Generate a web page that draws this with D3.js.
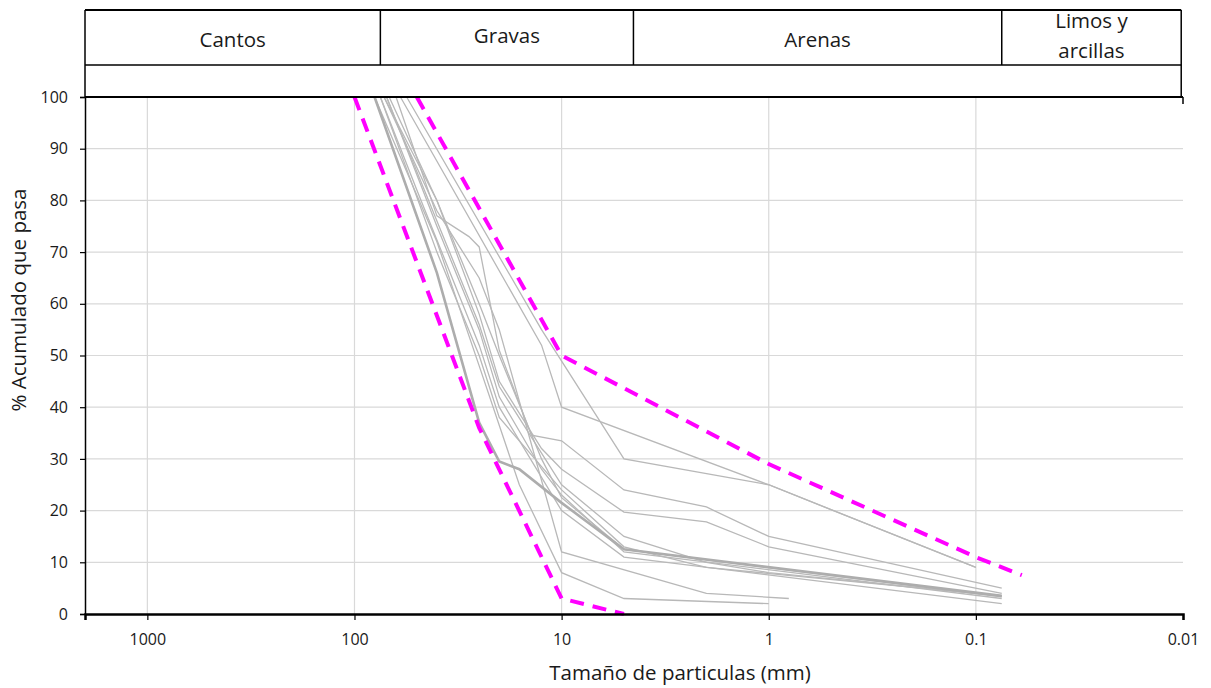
<!DOCTYPE html>
<html>
<head>
<meta charset="utf-8">
<script src="https://cdn.jsdelivr.net/npm/d3@7"></script>
<style>
  body { margin: 0; background: #fff; }
  svg { display: block; }
  text { font-family: "Open Sans", Lato, "Noto Sans", sans-serif; fill: #1a1a1a; }
</style>
</head>
<body>
<svg id="chart" width="1211" height="688"></svg>
<script>
// Particle size axis (mm) and percent passing ticks
const xTicks = [1000, 100, 10, 1, 0.1, 0.01];
const xGrid = [1000, 100, 10, 1, 0.1];
const yTicks = [0, 10, 20, 30, 40, 50, 60, 70, 80, 90, 100];

// Soil fraction bands across the top (limits in mm)
const zoneNames = [["Cantos"], ["Gravas"], ["Arenas"], ["Limos y", "arcillas"]];
const zoneLimits = [2000, 75, 4.5, 0.075, 0.0102];

// Grading curves of the samples: [size mm, % passing]
const sample01 = [[56, 100], [12.5, 55], [5, 30], [1, 25], [0.1, 9]];
const sample02 = [[60, 100], [12.5, 52], [10, 40], [1, 25], [0.1, 9]];
const sample03 = [[63, 100], [40, 77], [28, 73], [25, 71], [20, 51], [14, 34.6], [10, 33.5], [5, 24], [2, 20.7], [1, 15], [0.075, 5]];
const sample04 = [[72, 100], [40, 80], [25, 58], [20, 45], [12.5, 32], [10, 28], [5, 19.7], [2, 17.8], [1, 13], [0.075, 4]];
const sample05 = [[80, 100], [40, 66], [25, 37], [20, 29.5], [16, 28], [10, 21.5], [5, 12.5], [0.075, 3.5]];
const sample06 = [[75, 100], [40, 70], [25, 50], [20, 38], [10, 24], [5, 13], [2, 9], [0.075, 3.5]];
const sample07 = [[70, 100], [40, 75], [25, 55], [20, 42], [12.5, 28], [10, 23], [5, 12], [0.075, 3]];
const sample08 = [[75, 100], [50, 82], [25, 52], [20, 40], [10, 20], [5, 11], [0.075, 2]];
const sample09 = [[72, 100], [40, 78], [25, 65], [20, 55], [10, 12], [2, 4], [0.8, 3]];
const sample10 = [[80, 100], [40, 72], [25, 48], [16, 25], [10, 8], [5, 3], [1, 2]];
const sample11 = [[68, 100], [40, 80], [25, 60], [20, 50], [12.5, 30], [10, 22.5], [5, 12.5], [0.075, 3.3]];
const sample12 = [[70, 100], [40, 76], [25, 56], [20, 44], [10, 25], [5, 15], [2, 10], [1, 8], [0.075, 3.5]];

// Grading envelope (upper and lower limits)
const upperLimit = [[50, 100], [10, 50], [1, 29], [0.1, 11], [0.06, 7.5]];
const lowerLimit = [[100, 100], [25, 36], [10, 3], [5, 0]];

const samples = [sample01, sample02, sample03, sample04, sample06, sample07,
                 sample08, sample09, sample10, sample11, sample12];
const heavySample = sample05;

const svg = d3.select("#chart");
const plotLeft = 85, plotRight = 1183, plotTop = 97, plotBottom = 614;

const x = d3.scaleLog().domain([2000, 0.01]).range([plotLeft, plotRight]);
const y = d3.scaleLinear().domain([0, 100]).range([plotBottom, plotTop]);

// Gridlines
svg.append("g").selectAll("line").data(yTicks.filter(d => d > 0 && d < 100)).join("line")
  .attr("x1", plotLeft).attr("x2", plotRight)
  .attr("y1", d => y(d)).attr("y2", d => y(d))
  .attr("stroke", "#d9d9d9").attr("stroke-width", 1.2);
svg.append("g").selectAll("line").data(xGrid).join("line")
  .attr("x1", d => x(d)).attr("x2", d => x(d))
  .attr("y1", plotTop).attr("y2", plotBottom)
  .attr("stroke", "#d9d9d9").attr("stroke-width", 1.2);

// Header table with the soil fractions
const header = svg.append("g");
const hTop = 10, hRow = 65;
header.append("line").attr("x1", x(zoneLimits[0])).attr("x2", x(zoneLimits[4]))
  .attr("y1", hTop).attr("y2", hTop).attr("stroke", "#000").attr("stroke-width", 2);
header.append("line").attr("x1", x(zoneLimits[0])).attr("x2", x(zoneLimits[4]))
  .attr("y1", hRow).attr("y2", hRow).attr("stroke", "#000").attr("stroke-width", 1.5);
header.selectAll("line.div").data(zoneLimits.slice(1, 4)).join("line").attr("class", "div")
  .attr("x1", d => x(d)).attr("x2", d => x(d))
  .attr("y1", hTop).attr("y2", hRow).attr("stroke", "#000").attr("stroke-width", 1.5);
header.selectAll("line.side").data([zoneLimits[0], zoneLimits[4]]).join("line").attr("class", "side")
  .attr("x1", d => x(d)).attr("x2", d => x(d))
  .attr("y1", hTop).attr("y2", plotTop).attr("stroke", "#000").attr("stroke-width", 1.5);
zoneNames.forEach((lines, i) => {
  const cx = (x(zoneLimits[i]) + x(zoneLimits[i + 1])) / 2;
  const t = header.append("text").attr("text-anchor", "middle").attr("font-size", 20.5);
  if (lines.length === 1) {
    t.attr("x", cx).attr("y", i === 1 ? 43 : 47).text(lines[0]);
  } else {
    lines.forEach((s, k) => t.append("tspan").attr("x", cx).attr("y", 28 + k * 30).text(s));
  }
});

// Sample curves
const line = d3.line().x(d => x(d[0])).y(d => y(d[1]));
svg.append("g").selectAll("path").data(samples).join("path")
  .attr("d", line).attr("fill", "none")
  .attr("stroke", "#b8b8b8").attr("stroke-width", 1.3);
svg.append("path").datum(heavySample).attr("d", line).attr("fill", "none")
  .attr("stroke", "#adadad").attr("stroke-width", 2.6);

// Envelope limits
svg.append("g").selectAll("path").data([upperLimit, lowerLimit]).join("path")
  .attr("d", line).attr("fill", "none")
  .attr("stroke", "#ff00ff").attr("stroke-width", 4)
  .attr("stroke-dasharray", "14 9");

// Plot frame: top border and axes
svg.append("line").attr("x1", plotLeft).attr("x2", plotRight).attr("y1", plotTop).attr("y2", plotTop)
  .attr("stroke", "#000").attr("stroke-width", 2);
svg.append("line").attr("x1", plotRight).attr("x2", plotRight).attr("y1", plotTop).attr("y2", plotTop + 7)
  .attr("stroke", "#000").attr("stroke-width", 1.5);

const yAxis = svg.append("g").attr("transform", `translate(${plotLeft},0)`)
  .call(d3.axisLeft(y).tickValues(yTicks).tickSize(5).tickPadding(12).tickFormat(d3.format("d")));
yAxis.select(".domain").attr("stroke", "#000").attr("stroke-width", 1.5);
yAxis.selectAll(".tick line").attr("stroke", "#000").attr("stroke-width", 1.2);
yAxis.selectAll("text").attr("font-size", 16).attr("font-family", null).attr("fill", "#1a1a1a");

const xAxis = svg.append("g").attr("transform", `translate(0,${plotBottom})`)
  .call(d3.axisBottom(x).tickValues(xTicks).tickSize(6).tickPadding(14).tickFormat(d => String(d)));
xAxis.select(".domain").attr("stroke", "#000").attr("stroke-width", 2.5);
xAxis.selectAll(".tick line").attr("stroke", "#000").attr("stroke-width", 1.2);
xAxis.selectAll("text").attr("font-size", 16).attr("font-family", null).attr("fill", "#1a1a1a");

// Axis titles
svg.append("text").attr("x", 680).attr("y", 680).attr("text-anchor", "middle")
  .attr("font-size", 20.5).text("Tamaño de particulas (mm)");
svg.append("text").attr("transform", "translate(26,300) rotate(-90)")
  .attr("text-anchor", "middle").attr("font-size", 20.5).text("% Acumulado que pasa");
</script>
</body>
</html>
